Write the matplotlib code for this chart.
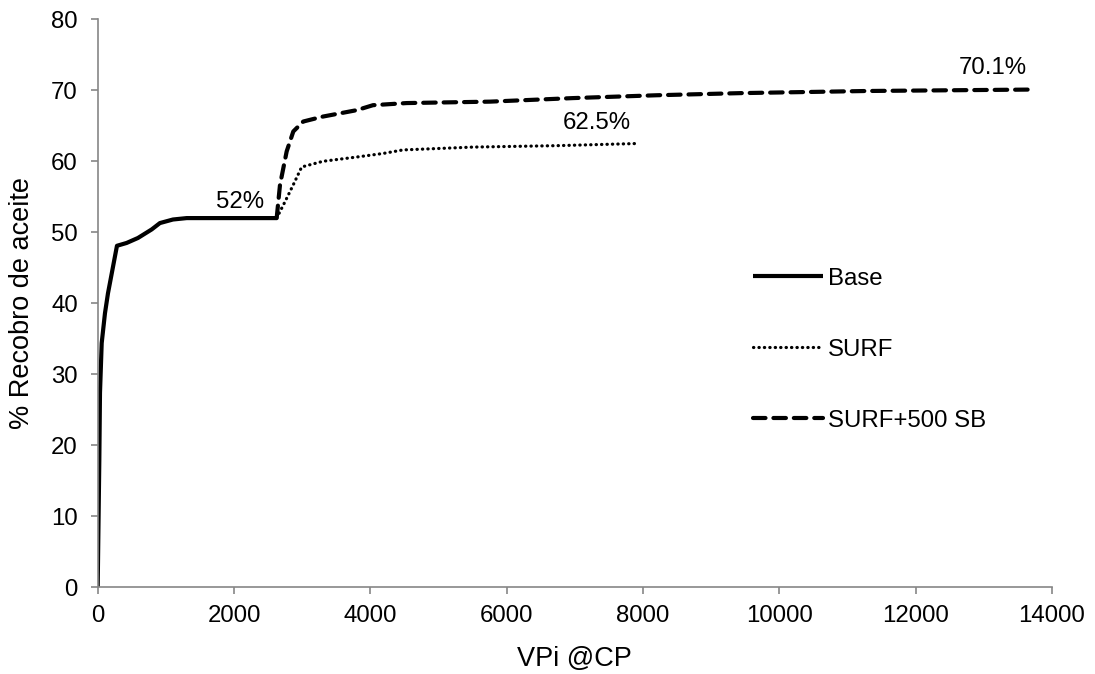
import matplotlib
matplotlib.use("Agg")
import matplotlib.pyplot as plt

plt.rcParams['font.family'] = ['Liberation Sans', 'DejaVu Sans']

# curvas de recobro
base_x = [0, 24, 34, 44, 59, 107, 151, 224, 283, 425, 591, 792, 913, 1104, 1306, 2626]
base_y = [0, 17.9, 27.4, 30.2, 34.4, 38.6, 41.4, 45.1, 48.1, 48.5, 49.2, 50.4, 51.3, 51.8, 52.0, 52.0]

surf_x = [2626, 2748, 2870, 2993, 3306, 3800, 4186, 4479, 5506, 6734, 7908]
surf_y = [52.0, 54.3, 56.7, 59.2, 60.0, 60.6, 61.1, 61.6, 62.0, 62.2, 62.5]

sb_x = [2626, 2675, 2773, 2870, 3016, 3306, 3800, 4039, 4533, 5755, 6972, 8201, 9430, 11282, 13685]
sb_y = [52.0, 56.7, 61.4, 64.2, 65.6, 66.3, 67.2, 67.9, 68.2, 68.4, 68.9, 69.3, 69.6, 69.9, 70.1]

etiquetas = ["52%", "62.5%", "70.1%"]
etq_x = [2088, 7325, 13135]
etq_y = [54.3, 65.4, 73.1]

fig = plt.figure(figsize=(10.95, 6.74), dpi=100)
ax = fig.add_axes([0.0892, 0.1286, 0.8715, 0.8428])

ax.plot(base_x, base_y, color='black', lw=3, solid_capstyle='butt', label='Base')
ax.plot(surf_x, surf_y, color='black', lw=2.3, linestyle=(0, (0.1, 1.6)),
        dash_capstyle='round', label='SURF')
ax.plot(sb_x, sb_y, color='black', lw=3, linestyle=(0, (3, 1.9)),
        dash_capstyle='round', label='SURF+500 SB')

for t, x, y in zip(etiquetas, etq_x, etq_y):
    ax.text(x, y, t, ha='center', va='center', fontsize=17.3)

ax.set_xlim(0, 14000)
ax.set_ylim(0, 80)
ax.set_xticks(range(0, 14001, 2000))
ax.set_yticks(range(0, 81, 10))

for s in ['top', 'right']:
    ax.spines[s].set_visible(False)
for s in ['left', 'bottom']:
    ax.spines[s].set_color('#868686')
    ax.spines[s].set_linewidth(1.2)
ax.tick_params(colors='#868686', labelcolor='black', labelsize=17.3, length=4.7, width=1.2)
ax.tick_params(axis='y', pad=9.5)
ax.tick_params(axis='x', pad=8)

ax.set_xlabel("VPi @CP", fontsize=19.5, labelpad=14)
ax.set_ylabel("% Recobro de aceite", fontsize=19.5, labelpad=12)

ax.legend(loc='center left', bbox_to_anchor=(0.687, 0.418), frameon=False, fontsize=17.3,
          borderpad=0, borderaxespad=0,
          handlelength=2.9, handletextpad=0.2, labelspacing=2.04)

plt.savefig('out.png', dpi=100)
